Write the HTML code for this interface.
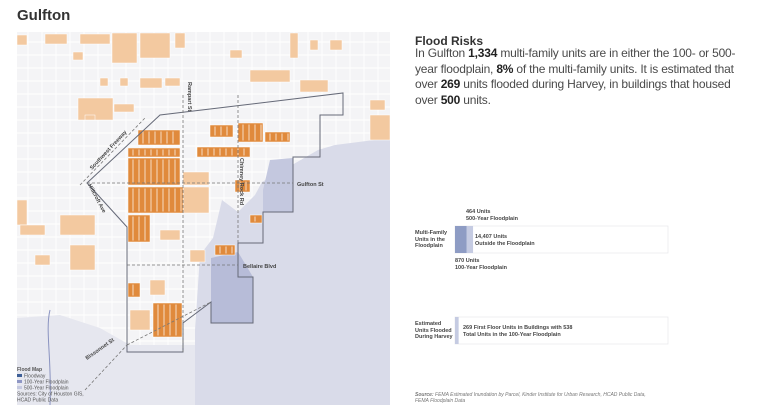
<!DOCTYPE html>
<html><head><meta charset="utf-8">
<style>
body{margin:0;background:#fff;font-family:"Liberation Sans",sans-serif;color:#333;}
#wrap{position:relative;width:779px;height:413px;overflow:hidden;}
.abs{position:absolute;white-space:nowrap;}
.p{font-size:12px;line-height:15.5px;color:#4a4a4a;letter-spacing:-0.2px}
.p b{color:#222}
.sm{font-size:5.5px;line-height:6.5px;color:#444;font-weight:bold}
</style></head><body>
<div id="wrap">
<div class="abs" style="left:17px;top:7px;font-size:15px;font-weight:bold;color:#333">Gulfton</div>

<svg class="abs" style="left:0;top:0" width="405" height="413">
 <rect x="17" y="32" width="373" height="373" fill="#f4f4f6"/>
 <g id="roads" stroke="#ffffff" stroke-width="0.9"></g>
 <polygon points="17,318 60,315 100,328 130,345 200,345 200,405 17,405" fill="#e6e7ef"/>
 <polygon points="335,145 390,138 390,405 195,405 195,330 200,255 213,238 222,200 238,212 255,195 262,182 292,165 318,150" fill="#d9dbe9"/>
 <polygon points="211,258 238,252 253,277 253,323 211,323" fill="#b7bcd8"/>
 <polygon points="270,160 293,158 293,212 263,212 263,190" fill="#c4c8df"/>
 <g id="blocks"></g>
 <polygon points="87,183 160,115 343,93 343,115 320,115 320,157 293,157 293,212 263,212 263,243 238,243 238,277 253,277 253,323 211,323 211,302 183,323 183,352 127,352 127,227" fill="none" stroke="#666a78" stroke-width="1"/>
 <g stroke="#777" stroke-width="0.8" stroke-dasharray="3,2" fill="none">
  <line x1="87" y1="183" x2="293" y2="183"/>
  <line x1="127" y1="265" x2="238" y2="265"/>
  <line x1="183" y1="95" x2="183" y2="352"/>
  <line x1="238" y1="95" x2="238" y2="243"/>
  <line x1="127" y1="345" x2="211" y2="302"/>
  <line x1="80" y1="185" x2="145" y2="118"/>
  <line x1="85" y1="390" x2="127" y2="345"/>
 </g>
 <path d="M50,405 C52,360 45,330 50,310" stroke="#8a93c0" stroke-width="1" fill="none"/>
 <g font-size="5.5" font-weight="bold" fill="#444">
  <text x="297" y="186">Gulfton St</text>
  <text x="243" y="268">Bellaire Blvd</text>
  <text transform="translate(240,158) rotate(90)">Chimney Rock Rd</text>
  <text transform="translate(188,82) rotate(90)">Rampart St</text>
  <text transform="translate(92,170) rotate(-47)">Southwest Freeway</text>
  <text transform="translate(88,185) rotate(62)">Hillcroft Ave</text>
  <text transform="translate(87,360) rotate(-35)">Bissonnet St</text>
 </g>
 <g font-size="5" fill="#555">
  <text x="17" y="371" font-weight="bold">Flood Map</text>
  <rect x="17" y="374" width="5" height="3" fill="#3e5f97"/><text x="24" y="377.5">Floodway</text>
  <rect x="17" y="380" width="5" height="3" fill="#8e96c4"/><text x="24" y="383.5">100-Year Floodplain</text>
  <rect x="17" y="386" width="5" height="3" fill="#c5c9e0"/><text x="24" y="389.5">500-Year Floodplain</text>
  <text x="17" y="395.5">Sources: City of Houston GIS,</text>
  <text x="17" y="401.5">HCAD Public Data</text>
 </g>
</svg>

<div class="abs" style="left:415px;top:34px;font-size:12px;font-weight:bold;color:#333">Flood Risks</div>
<div class="abs p" style="left:415px;top:46px">In Gulfton <b>1,334</b> multi-family units are in either the 100- or 500-<br>year floodplain, <b>8%</b> of the multi-family units. It is estimated that<br>over <b>269</b> units flooded during Harvey, in buildings that housed<br>over <b>500</b> units.</div>

<svg class="abs" style="left:400px;top:200px" width="379" height="160">
 <g id="chart"></g>
</svg>

<div class="abs sm" style="left:415px;top:230px">Multi-Family<br>Units in the<br>Floodplain</div>
<div class="abs sm" style="left:466px;top:209px">464 Units<br>500-Year Floodplain</div>
<div class="abs sm" style="left:475px;top:234px">14,407 Units<br>Outside the Floodplain</div>
<div class="abs sm" style="left:455px;top:258px">870 Units<br>100-Year Floodplain</div>
<div class="abs sm" style="left:415px;top:321px">Estimated<br>Units Flooded<br>During Harvey</div>
<div class="abs sm" style="left:463px;top:325px">269 First Floor Units in Buildings with 538<br>Total Units in the 100-Year Floodplain</div>

<div class="abs" style="left:415px;top:392px;font-size:5px;line-height:6px;font-style:italic;color:#777"><b>Source:</b> FEMA Estimated Inundation by Parcel, Kinder Institute for Urban Research, HCAD Public Data,<br>FEMA Floodplain Data</div>
</div>

<script>
const categories = ["100-Year Floodplain","500-Year Floodplain","Outside the Floodplain"];
const unitValues = [870, 464, 14407];
const harveyValues = [269];
const seriesColors = ["#8e9cc4","#c5cbe2","#ffffff"];
const NS="http://www.w3.org/2000/svg";
const total = unitValues.reduce((a,b)=>a+b,0);
const x0=55, W=213;
const xs = v => v/total*W;
const g=document.getElementById('chart');
function rect(x,y,w,h,f,s){const r=document.createElementNS(NS,'rect');r.setAttribute('x',x);r.setAttribute('y',y);r.setAttribute('width',w);r.setAttribute('height',h);r.setAttribute('fill',f);if(s){r.setAttribute('stroke',s);r.setAttribute('stroke-width','0.6');}g.appendChild(r);return r;}
let fr=rect(x0,26,W,27,'#fff','#e4e4e8');


let cx=x0;
unitValues.forEach((v,i)=>{
  if(i===2)return;
  const r=rect(cx,26,xs(v),27,seriesColors[i]);
  
  
  cx+=xs(v);
});
let fr2=rect(x0,117,W,27,'#fff','#e4e4e8');


harveyValues.forEach(v=>{
  const r=rect(x0,117,xs(v),27,'#c5cbe2');
  
  
});

// map decoration
const roads=document.getElementById('roads');
for(let x=28;x<390;x+=14){const l=document.createElementNS(NS,'line');l.setAttribute('x1',x);l.setAttribute('x2',x);l.setAttribute('y1',32);l.setAttribute('y2',405);roads.appendChild(l);}
for(let y=42;y<405;y+=13){const l=document.createElementNS(NS,'line');l.setAttribute('y1',y);l.setAttribute('y2',y);l.setAttribute('x1',17);l.setAttribute('x2',390);roads.appendChild(l);}
const bl=document.getElementById('blocks');
const dark=[[138,130,42,15],[210,125,23,12],[238,123,25,19],[265,132,25,10],[197,147,53,10],[128,148,52,9],[128,158,52,27],[128,187,55,26],[128,215,22,27],[153,303,29,34],[128,283,12,14],[235,180,15,12],[250,215,12,8],[215,245,20,10]];
const light=[[183,172,26,13],[183,187,26,26],[17,35,10,10],[45,34,22,10],[80,34,30,10],[112,33,25,30],[140,33,30,25],[175,33,10,15],[290,33,8,25],[310,40,8,10],[330,40,12,10],[230,50,12,8],[73,52,10,8],[100,78,8,8],[120,78,8,8],[140,78,22,10],[165,78,15,8],[250,70,40,12],[300,80,28,12],[78,98,35,22],[114,104,20,8],[370,100,15,10],[370,115,20,25],[85,115,10,5],[17,200,10,25],[60,215,35,20],[20,225,25,10],[70,245,25,25],[35,255,15,10],[130,310,20,20],[150,280,15,15],[190,250,15,12],[160,230,20,10]];
function blk(a,f,fine){const r=document.createElementNS(NS,'rect');r.setAttribute('x',a[0]);r.setAttribute('y',a[1]);r.setAttribute('width',a[2]);r.setAttribute('height',a[3]);r.setAttribute('fill',f);r.setAttribute('stroke','#fff');r.setAttribute('stroke-width','0.5');bl.appendChild(r);
 if(fine){for(let x=a[0]+5;x<a[0]+a[2]-1;x+=6){const l=document.createElementNS(NS,'line');l.setAttribute('x1',x);l.setAttribute('x2',x);l.setAttribute('y1',a[1]+1.5);l.setAttribute('y2',a[1]+a[3]-1.5);l.setAttribute('stroke','#fff');l.setAttribute('stroke-width','0.7');bl.appendChild(l);}}}
light.forEach(a=>blk(a,'#f3c9a0',false));
dark.forEach(a=>blk(a,'#e08a3c',true));
</script>
</body></html>
